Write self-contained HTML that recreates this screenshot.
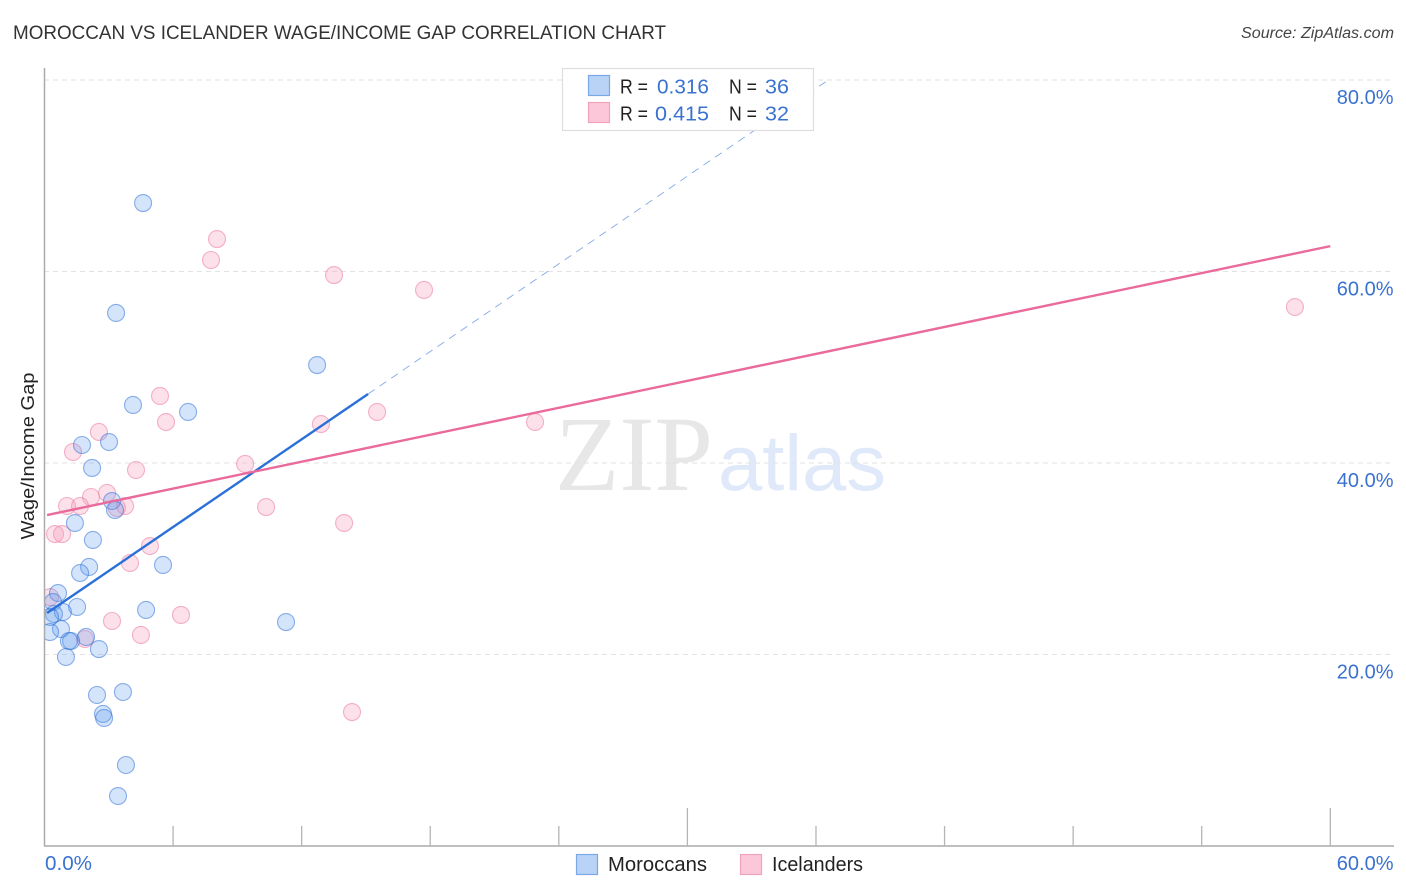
<!DOCTYPE html>
<html>
<head>
<meta charset="utf-8">
<title>Moroccan vs Icelander Wage/Income Gap Correlation Chart</title>
<style>
html,body{margin:0;padding:0;background:#fff;width:1406px;height:892px;overflow:hidden}
svg{display:block;font-family:"Liberation Sans",sans-serif}
</style>
</head>
<body>
<svg id="chart" width="1406" height="892" viewBox="0 0 1406 892" xmlns="http://www.w3.org/2000/svg">
  <defs>
    <clipPath id="plot-clip"><rect x="44" y="60" width="1350" height="786"/></clipPath>
  </defs>
  <text x="13" y="39" font-size="19.5" fill="#333" textLength="653" lengthAdjust="spacingAndGlyphs">MOROCCAN VS ICELANDER WAGE/INCOME GAP CORRELATION CHART</text>
  <text x="1241" y="38" font-size="15.5" font-style="italic" fill="#444" textLength="153" lengthAdjust="spacingAndGlyphs">Source: ZipAtlas.com</text>

  <g id="watermark">
    <text x="555" y="490" font-family="'Liberation Serif',serif" font-size="107" fill="#e7e7e7" textLength="158" lengthAdjust="spacingAndGlyphs">ZIP</text>
    <text x="718" y="490" font-size="79" fill="#dfe9f9" textLength="168" lengthAdjust="spacingAndGlyphs">atlas</text>
  </g>

  <g id="grid"></g>
  <g id="trends-under" clip-path="url(#plot-clip)"></g>
  <g id="points" clip-path="url(#plot-clip)"></g>
  <g id="trends-over" clip-path="url(#plot-clip)"></g>

  <line x1="44.5" y1="68" x2="44.5" y2="846" stroke="#aaa" stroke-width="1.5"/>
  <line x1="44" y1="846" x2="1394" y2="846" stroke="#aaa" stroke-width="1.5"/>
  <g id="x-ticks"></g>
  <g id="y-labels"></g>
  <g id="x-labels"></g>

  <text transform="translate(34,456) rotate(-90)" font-size="18" fill="#222" text-anchor="middle" textLength="167" lengthAdjust="spacingAndGlyphs">Wage/Income Gap</text>

  <g>
    <rect x="562.5" y="68.5" width="251" height="62" fill="#fff" stroke="#ddd" stroke-width="1.2"/>
    <rect x="588.5" y="75.5" width="21" height="20" fill="#b9d3f7" stroke="#7ba8e6" stroke-width="1.2"/>
    <rect x="588.5" y="102.5" width="21" height="20" fill="#fcc8d9" stroke="#f2a3bc" stroke-width="1.2"/>
    <g font-size="20.5">
      <text x="620" y="93.5" fill="#222" textLength="28" lengthAdjust="spacingAndGlyphs">R =</text>
      <text x="657" y="93.5" fill="#3a72d0" textLength="52" lengthAdjust="spacingAndGlyphs">0.316</text>
      <text x="729" y="93.5" fill="#222" textLength="28" lengthAdjust="spacingAndGlyphs">N =</text>
      <text x="765" y="93.5" fill="#3a72d0" textLength="24" lengthAdjust="spacingAndGlyphs">36</text>
      <text x="620" y="120.5" fill="#222" textLength="28" lengthAdjust="spacingAndGlyphs">R =</text>
      <text x="655" y="120.5" fill="#3a72d0" textLength="54" lengthAdjust="spacingAndGlyphs">0.415</text>
      <text x="729" y="120.5" fill="#222" textLength="28" lengthAdjust="spacingAndGlyphs">N =</text>
      <text x="765" y="120.5" fill="#3a72d0" textLength="24" lengthAdjust="spacingAndGlyphs">32</text>
    </g>
  </g>

  <g>
    <rect x="576.5" y="854.5" width="21" height="20" fill="#b9d3f7" stroke="#7ba8e6" stroke-width="1.2"/>
    <text x="608" y="871" font-size="20" fill="#222" textLength="99" lengthAdjust="spacingAndGlyphs">Moroccans</text>
    <rect x="740.5" y="854.5" width="21" height="20" fill="#fcc8d9" stroke="#f2a3bc" stroke-width="1.2"/>
    <text x="772" y="871" font-size="20" fill="#222" textLength="91" lengthAdjust="spacingAndGlyphs">Icelanders</text>
  </g>
</svg>
<script>
const moroccanX = [4.60,3.34,12.72,4.13,6.70,1.75,3.01,2.22,3.15,3.29,1.42,2.26,2.08,5.53,1.66,0.63,0.40,1.52,4.74,0.86,0.44,0.26,11.27,0.77,0.26,1.94,1.24,1.14,2.54,1.00,2.45,3.66,2.73,2.78,3.80,3.43];
const moroccanY = [67.15,55.67,50.23,46.06,45.33,41.88,42.19,39.48,36.03,35.09,33.73,31.96,29.14,29.35,28.51,26.42,25.48,24.96,24.65,24.44,24.23,23.92,23.39,22.66,22.35,21.83,21.41,21.41,20.57,19.74,15.77,16.08,13.79,13.37,8.46,5.22];
const icelanderX = [8.05,7.77,13.51,17.71,58.35,5.39,15.52,5.67,12.90,22.89,2.54,1.33,4.27,9.36,2.17,2.92,1.05,1.66,3.76,3.38,10.34,13.98,0.49,0.82,4.92,3.99,6.37,3.15,4.50,1.89,14.35,0.26];
const icelanderY = [63.39,61.20,59.63,58.07,56.29,47.00,45.33,44.28,44.07,44.28,43.24,41.15,39.27,39.90,36.45,36.87,35.51,35.51,35.51,35.30,35.40,33.73,32.58,32.58,31.33,29.56,24.13,23.50,22.04,21.62,13.99,26.00];
const moroccanTrend = [24.15, 1.527];
const icelanderTrend = [34.51, 0.469];
const moroccanSolidEnd = [0.12, 15.1];
const moroccanDashEnd = 36.6;
const icelanderSolidEnd = [0.12, 60];
const yTicks = [20, 40, 60, 80];
const yTickLabels = ["20.0%", "40.0%", "60.0%", "80.0%"];
const xTicks = [6, 12, 18, 24, 30, 36, 42, 48, 54, 60];
const xMajorTicks = [30, 60];
const xEndLabels = ["0.0%", "60.0%"];

const NS = "http://www.w3.org/2000/svg";
function sx(v) { return 44.5 + v * 21.43; }
function sy(v) { return 846 - v * 9.575; }
function make(tag, attrs, parent) {
  const el = document.createElementNS(NS, tag);
  for (const k in attrs) el.setAttribute(k, attrs[k]);
  parent.appendChild(el);
  return el;
}

const grid = document.getElementById("grid");
const yLabels = document.getElementById("y-labels");
yTicks.forEach(function (t, i) {
  const g = make("line", {x1: 44, x2: 1394, y1: sy(t), y2: sy(t), stroke: "#e2e2e2", "stroke-width": 1, "stroke-dasharray": "5 4"}, grid);
  
  
  const l = make("text", {x: 1393.5, y: sy(t) + 24, "font-size": 20, fill: "#3a72d0", "text-anchor": "end"}, yLabels);
  l.textContent = yTickLabels[i];
  
  
});

const xTickGroup = document.getElementById("x-ticks");
xTicks.forEach(function (t) {
  const major = xMajorTicks.indexOf(t) >= 0;
  const k = make("line", {x1: sx(t), x2: sx(t), y1: major ? 808 : 826, y2: 846, stroke: "#b5b5b5", "stroke-width": 1.3}, xTickGroup);
  
  
});

const xLabels = document.getElementById("x-labels");
const x0 = make("text", {x: 45, y: 870, "font-size": 20, fill: "#3a72d0", textLength: 47, lengthAdjust: "spacingAndGlyphs"}, xLabels);
x0.textContent = xEndLabels[0];


const x1 = make("text", {x: 1393.5, y: 870, "font-size": 20, fill: "#3a72d0", "text-anchor": "end"}, xLabels);
x1.textContent = xEndLabels[1];



function trendY(trend, x) { return trend[0] + trend[1] * x; }

const under = document.getElementById("trends-under");
const over = document.getElementById("trends-over");
const dash = make("line", {
  x1: sx(moroccanSolidEnd[1]), y1: sy(trendY(moroccanTrend, moroccanSolidEnd[1])),
  x2: sx(moroccanDashEnd), y2: sy(trendY(moroccanTrend, moroccanDashEnd)),
  stroke: "#2f72d8", "stroke-width": 0.9, "stroke-dasharray": "8 6", opacity: 0.6
}, under);



function drawPoints(xs, ys, fill, stroke, name) {
  const parent = document.getElementById("points");
  xs.forEach(function (v, i) {
    const c = make("circle", {cx: sx(v), cy: sy(ys[i]), r: 8.5, fill: fill, stroke: stroke, "stroke-width": 1.1}, parent);
    
    
  });
}
drawPoints(icelanderX, icelanderY, "rgba(247,160,190,0.32)", "rgba(236,130,165,0.6)", "icelander-point");
drawPoints(moroccanX, moroccanY, "rgba(90,150,235,0.26)", "rgba(50,115,215,0.55)", "moroccan-point");

const lineM = make("line", {
  x1: sx(moroccanSolidEnd[0]), y1: sy(trendY(moroccanTrend, moroccanSolidEnd[0])),
  x2: sx(moroccanSolidEnd[1]), y2: sy(trendY(moroccanTrend, moroccanSolidEnd[1])),
  stroke: "#2a70d8", "stroke-width": 2.4
}, over);


const lineI = make("line", {
  x1: sx(icelanderSolidEnd[0]), y1: sy(trendY(icelanderTrend, icelanderSolidEnd[0])),
  x2: sx(icelanderSolidEnd[1]), y2: sy(trendY(icelanderTrend, icelanderSolidEnd[1])),
  stroke: "#ea6a9b", "stroke-width": 2.4
}, over);


</script>
</body>
</html>
